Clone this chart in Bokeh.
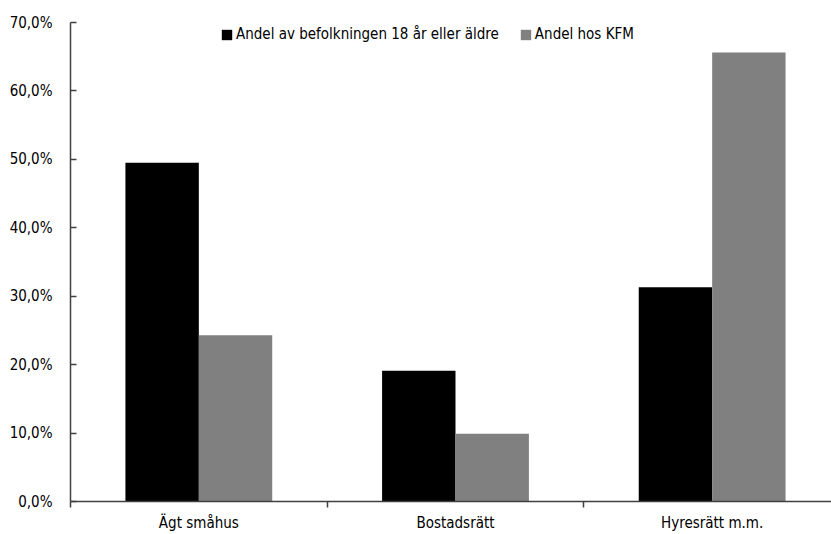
from bokeh.plotting import figure
from bokeh.models import (Range1d, LinearAxis, FixedTicker, Legend, LegendItem,
                          ColumnDataSource, Grid)
from bokeh.embed import file_html
from bokeh.resources import INLINE

categories = ["Ägt småhus", "Bostadsrätt", "Hyresrätt m.m."]
series_names = ["Andel av befolkningen 18 år eller äldre", "Andel hos KFM"]
befolkning = [49.5, 19.1, 31.3]
kfm = [24.3, 9.9, 65.6]
y_ticks = [0, 10, 20, 30, 40, 50, 60, 70]
y_tick_labels = ["0,0%", "10,0%", "20,0%", "30,0%", "40,0%", "50,0%", "60,0%", "70,0%"]

FONT = "Liberation Sans Narrow, DejaVu Sans Condensed, sans-serif"
AXIS_COLOR = "#404040"
bar_w = 0.286

centers = [i + 0.5 for i in range(len(categories))]
src1 = ColumnDataSource(dict(x=[c - bar_w / 2 for c in centers], top=befolkning))
src2 = ColumnDataSource(dict(x=[c + bar_w / 2 for c in centers], top=kfm))

p = figure(width=831, height=534, x_range=Range1d(0, 2.965), y_range=Range1d(0, 70),
           output_backend="svg", toolbar_location=None,
           x_axis_type=None, y_axis_type=None,
           min_border_top=22, min_border_right=0, min_border_left=70, min_border_bottom=0)
p.outline_line_color = None
p.background_fill_color = "white"

r1 = p.vbar(x="x", top="top", width=bar_w, bottom=0, source=src1,
            fill_color="#000000", line_color=None)
r2 = p.vbar(x="x", top="top", width=bar_w, bottom=0, source=src2,
            fill_color="#808080", line_color=None)

# y axis
yaxis = LinearAxis(ticker=FixedTicker(ticks=y_ticks),
                   major_label_overrides={t: l for t, l in zip(y_ticks, y_tick_labels)})
yaxis.major_tick_in = 6
yaxis.major_tick_out = 0
yaxis.minor_tick_line_color = None
yaxis.axis_line_color = AXIS_COLOR
yaxis.axis_line_width = 1.5
yaxis.major_tick_line_color = AXIS_COLOR
yaxis.major_tick_line_width = 1.5
yaxis.major_label_text_font = FONT
yaxis.major_label_text_font_size = "15px"
yaxis.major_label_text_color = "#000000"
yaxis.major_label_standoff = 18
p.add_layout(yaxis, "left")

# x axis: boundary ticks
xaxis_ticks = LinearAxis(ticker=FixedTicker(ticks=[0, 1, 2, 3]),
                         major_label_overrides={0: "", 1: "", 2: "", 3: ""})
xaxis_ticks.major_tick_out = 6
xaxis_ticks.major_tick_in = 0
xaxis_ticks.minor_tick_line_color = None
xaxis_ticks.axis_line_color = AXIS_COLOR
xaxis_ticks.axis_line_width = 1.5
xaxis_ticks.major_tick_line_color = AXIS_COLOR
xaxis_ticks.major_tick_line_width = 1.5
xaxis_ticks.major_label_text_font_size = "1px"
xaxis_ticks.major_label_standoff = 0
p.add_layout(xaxis_ticks, "below")

# x axis: category labels
xaxis_labels = LinearAxis(ticker=FixedTicker(ticks=centers),
                          major_label_overrides={c: n for c, n in zip(centers, categories)})
xaxis_labels.axis_line_color = None
xaxis_labels.major_tick_line_color = None
xaxis_labels.minor_tick_line_color = None
xaxis_labels.major_label_text_font = FONT
xaxis_labels.major_label_text_font_size = "15px"
xaxis_labels.major_label_text_color = "#000000"
xaxis_labels.major_label_standoff = 0
p.add_layout(xaxis_labels, "below")

# top border line at 70 %
top_grid = Grid(dimension=1, ticker=FixedTicker(ticks=[70]),
                grid_line_color=AXIS_COLOR, grid_line_width=1.5)
p.add_layout(top_grid)

legend = Legend(items=[LegendItem(label=series_names[0], renderers=[r1]),
                       LegendItem(label=series_names[1], renderers=[r2])],
                orientation="horizontal", location=(150, 458))
legend.border_line_color = None
legend.background_fill_alpha = 0
legend.label_text_font = FONT
legend.label_text_font_size = "15px"
legend.label_text_color = "#000000"
legend.glyph_width = 13
legend.glyph_height = 13
legend.spacing = 20
legend.padding = 0
legend.margin = 0
legend.label_standoff = 3
p.add_layout(legend, "center")

open("out.html", "w").write(file_html(p, INLINE))
